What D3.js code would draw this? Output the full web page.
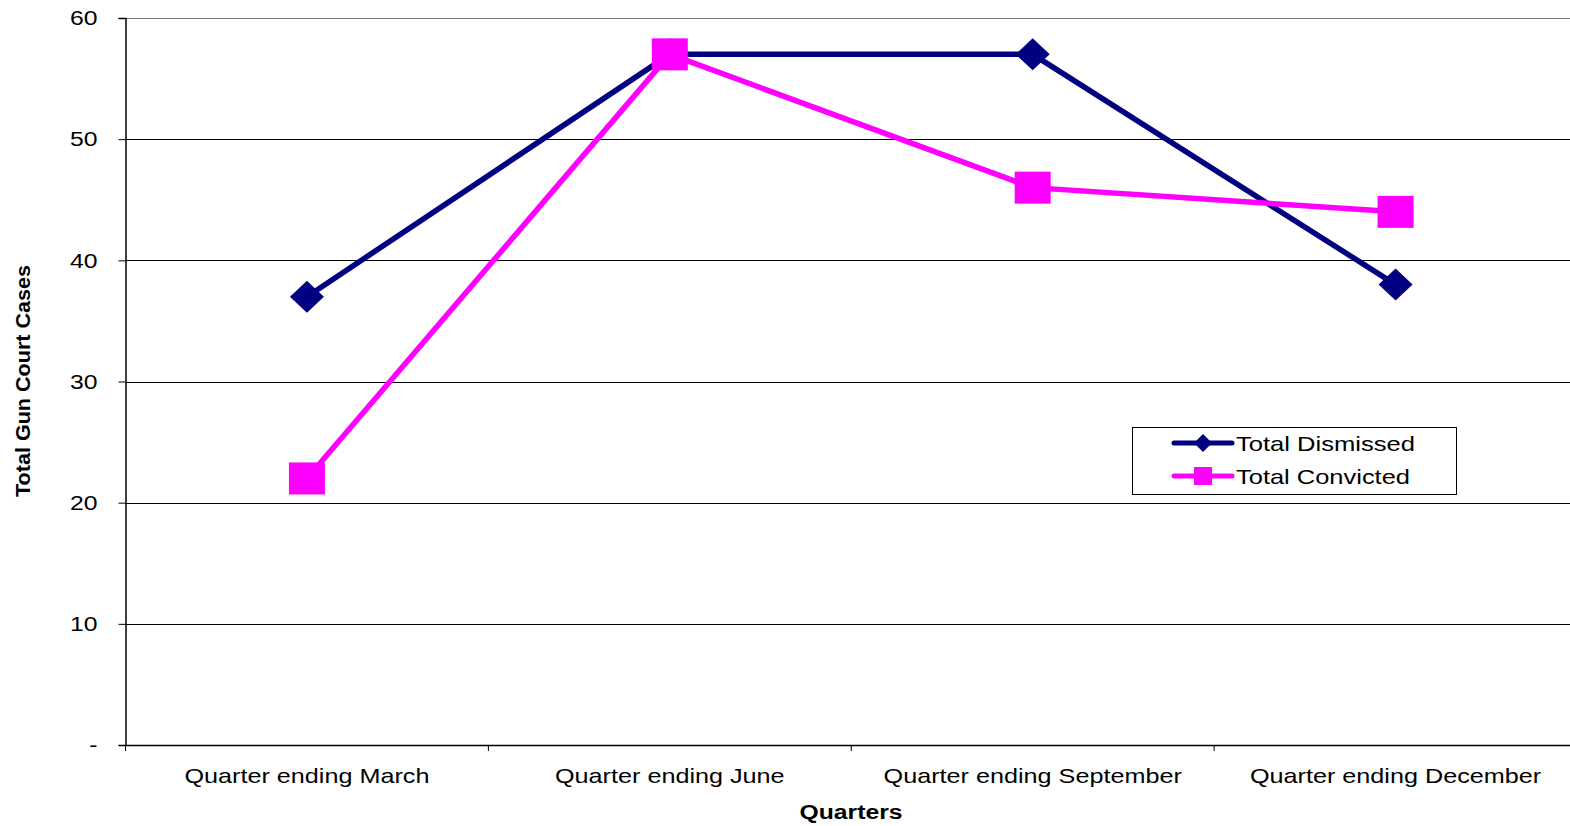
<!DOCTYPE html>
<html>
<head>
<meta charset="utf-8">
<script src="https://cdn.jsdelivr.net/npm/d3@7"></script>
<style>
  body { margin: 0; background: #fff; }
  svg { font-family: "Liberation Sans", Arial, sans-serif; }
</style>
</head>
<body>
<svg width="1570" height="826"></svg>
<script>
const quarters = ["Quarter ending March", "Quarter ending June", "Quarter ending September", "Quarter ending December"];
const dismissed = [37, 57, 57, 38];
const convicted = [22, 57, 46, 44];
const yTicks = [0, 10, 20, 30, 40, 50, 60];

const svg = d3.select('svg');
const plotLeft = 125.5, plotRight = 1577, plotTop = 18, plotBottom = 745;
// the source chart draws its text stretched horizontally
const stretch = 1.26;

const x = d3.scaleBand().domain(quarters).range([plotLeft, plotRight]);
const y = d3.scaleLinear().domain([0, 60]).range([plotBottom, plotTop]);

// gridlines
svg.append('g')
  .selectAll('line')
  .data(yTicks.slice(1))
  .enter()
  .append('line')
  .attr('x1', plotLeft).attr('x2', plotRight)
  .attr('y1', d => Math.round(y(d)) + 0.5).attr('y2', d => Math.round(y(d)) + 0.5)
  .attr('stroke', d => d === 60 ? '#777' : '#000')
  .attr('stroke-width', 1);

// y axis
const yAxis = svg.append('g')
  .attr('transform', `translate(${plotLeft},0)`)
  .call(d3.axisLeft(y).tickValues(yTicks).tickSize(7).tickPadding(21)
    .tickFormat(d => d === 0 ? '-' : d));
yAxis.select('.domain').attr('stroke', '#000').attr('stroke-width', 1.5);
yAxis.selectAll('.tick line').attr('stroke', '#000');
yAxis.selectAll('.tick text')
  .attr('font-size', 21).attr('fill', '#000')
  .attr('font-family', '"Liberation Sans", Arial, sans-serif')
  .attr('transform', function () {
    const tx = +d3.select(this).attr('x');
    return `translate(${tx},0) scale(1.18,1) translate(${-tx},0)`;
  });

// x axis
const xAxis = svg.append('g')
  .attr('transform', `translate(0,${plotBottom})`)
  .call(d3.axisBottom(x).tickSize(0).tickPadding(24));
xAxis.select('.domain').attr('stroke', '#000').attr('stroke-width', 1.5);
xAxis.selectAll('.tick text')
  .attr('font-size', 20).attr('fill', '#000')
  .attr('font-family', '"Liberation Sans", Arial, sans-serif')
  .attr('transform', `scale(${stretch},1)`);
svg.append('g')
  .selectAll('line')
  .data(quarters)
  .enter()
  .append('line')
  .attr('x1', d => x(d)).attr('x2', d => x(d))
  .attr('y1', plotBottom).attr('y2', plotBottom + 6)
  .attr('stroke', '#000');

const cx = d => x(d) + x.bandwidth() / 2;

const line = d3.line()
  .x((d, i) => cx(quarters[i]))
  .y(d => y(d));

svg.append('path')
  .datum(dismissed)
  .attr('d', line)
  .attr('fill', 'none')
  .attr('stroke', '#000080')
  .attr('stroke-width', 5.5);

svg.append('path')
  .datum(convicted)
  .attr('d', line)
  .attr('fill', 'none')
  .attr('stroke', '#ff00ff')
  .attr('stroke-width', 5.5);

svg.append('g')
  .selectAll('path')
  .data(dismissed)
  .enter()
  .append('path')
  .attr('d', 'M0,-16 L17,0 L0,16 L-17,0 Z')
  .attr('transform', (d, i) => `translate(${cx(quarters[i])},${y(d)})`)
  .attr('fill', '#000080');

svg.append('g')
  .selectAll('rect')
  .data(convicted)
  .enter()
  .append('rect')
  .attr('x', (d, i) => cx(quarters[i]) - 18)
  .attr('y', d => y(d) - 16)
  .attr('width', 36)
  .attr('height', 32)
  .attr('fill', '#ff00ff');

// axis titles
svg.append('text')
  .attr('x', 851).attr('y', 819)
  .attr('text-anchor', 'middle')
  .attr('font-size', 20).attr('font-weight', 'bold')
  .attr('textLength', 103).attr('lengthAdjust', 'spacingAndGlyphs')
  .text('Quarters');

svg.append('text')
  .attr('transform', 'translate(30,381) rotate(-90)')
  .attr('text-anchor', 'middle')
  .attr('font-size', 20).attr('font-weight', 'bold')
  .attr('textLength', 232).attr('lengthAdjust', 'spacingAndGlyphs')
  .text('Total Gun Court Cases');

// legend
const legend = svg.append('g').attr('transform', 'translate(1132,427)');
legend.append('rect')
  .attr('x', 0.5).attr('y', 0.5).attr('width', 324).attr('height', 67)
  .attr('fill', '#fff').attr('stroke', '#000');
const items = [
  { name: 'Total Dismissed', color: '#000080', shape: 'diamond', len: 179 },
  { name: 'Total Convicted', color: '#ff00ff', shape: 'square', len: 174 }
];
items.forEach((it, i) => {
  const ly = 16 + i * 33;
  legend.append('line')
    .attr('x1', 42).attr('x2', 100).attr('y1', ly).attr('y2', ly)
    .attr('stroke', it.color).attr('stroke-width', 5).attr('stroke-linecap', 'round');
  if (it.shape === 'diamond') {
    legend.append('path')
      .attr('d', `M71,${ly - 9} L80,${ly} L71,${ly + 9} L62,${ly} Z`)
      .attr('fill', it.color);
  } else {
    legend.append('rect')
      .attr('x', 62).attr('y', ly - 9).attr('width', 18).attr('height', 18)
      .attr('fill', it.color);
  }
  legend.append('text')
    .attr('x', 104).attr('y', ly + 8)
    .attr('font-size', 21)
    .attr('textLength', it.len).attr('lengthAdjust', 'spacingAndGlyphs')
    .text(it.name);
});
</script>
</body>
</html>
